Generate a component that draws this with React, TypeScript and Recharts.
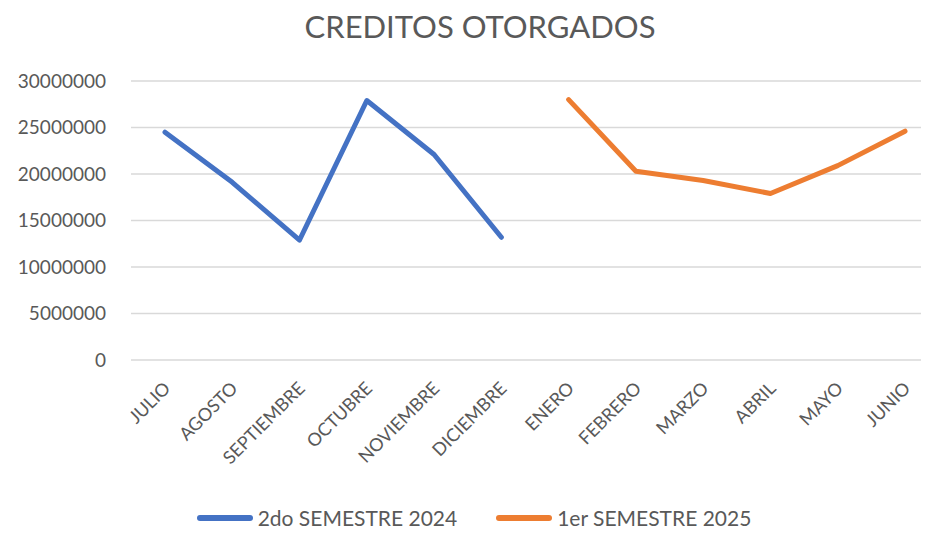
import React from "react";
import { LineChart, Line, XAxis, YAxis, CartesianGrid, Legend } from "recharts";

const months = ["JULIO", "AGOSTO", "SEPTIEMBRE", "OCTUBRE", "NOVIEMBRE", "DICIEMBRE", "ENERO", "FEBRERO", "MARZO", "ABRIL", "MAYO", "JUNIO"];
const semestre2024 = [24500000, 19100000, 12900000, 27900000, 22100000, 13200000, null, null, null, null, null, null];
const semestre2025 = [null, null, null, null, null, null, 28000000, 20300000, 19300000, 17900000, 20900000, 24600000];
const yTicks = [0, 5000000, 10000000, 15000000, 20000000, 25000000, 30000000];
const seriesNames = ["2do SEMESTRE 2024", "1er SEMESTRE 2025"];
const colors = ["#4472C4", "#ED7D31"];
const title = "CREDITOS OTORGADOS";

const data = months.map((m, i) => ({ month: m, s1: semestre2024[i], s2: semestre2025[i] }));

const FONT = "Lato, 'Liberation Sans', sans-serif";
const GRAY = "#595959";

const XTick = (props: any) => {
  const { x, y, payload } = props;
  return (
    <g transform={`translate(${x + 3},${y + 18})`}>
      <text transform="rotate(-45)" textAnchor="end" fill={GRAY} fontSize={18} fontFamily={FONT} dy={5}>
        {payload.value}
      </text>
    </g>
  );
};

const LegendContent = () => (
  <div style={{ display: "flex", justifyContent: "center", alignItems: "center", fontFamily: FONT, fontSize: 21, color: GRAY }}>
    {seriesNames.map((n, i) => (
      <div key={n} style={{ display: "flex", alignItems: "center", marginRight: i === 0 ? 38 : 0 }}>
        <svg width={58} height={10} style={{ marginRight: 4 }}>
          <line x1={4} y1={5} x2={54} y2={5} stroke={colors[i]} strokeWidth={6} strokeLinecap="round" />
        </svg>
        <span>{n}</span>
      </div>
    ))}
  </div>
);

export default function App() {
  return (
    <div style={{ position: "relative", width: 921, height: 527, overflow: "hidden", background: "#fff" }}>
      <div style={{ position: "absolute", top: 0, left: 0, width: 921, boxSizing: "border-box", paddingLeft: 23, textAlign: "center", fontFamily: FONT, fontSize: 31, lineHeight: "36px", color: GRAY, zIndex: 2 }}>
        {title}
      </div>
      <LineChart width={950} height={527} data={data} margin={{ top: 73, right: 19, left: 0, bottom: 0 }}>
        <CartesianGrid vertical={false} stroke="#d9d9d9" strokeWidth={1.5} />
        <XAxis dataKey="month" axisLine={false} tickLine={false} interval={0} height={145} padding={{ left: 34, right: 34 }} tick={<XTick />} />
        <YAxis
          domain={[0, 30000000]}
          ticks={yTicks}
          width={123}
          axisLine={false}
          tickLine={false}
          tickSize={0}
          tickMargin={25}
          tick={{ fill: GRAY, fontSize: 19, fontFamily: FONT }}
        />
        <Legend verticalAlign="bottom" height={30} content={<LegendContent />} />
        <Line type="linear" dataKey="s1" name={seriesNames[0]} stroke={colors[0]} strokeWidth={5} dot={false} strokeLinecap="round" strokeLinejoin="round" isAnimationActive={false} />
        <Line type="linear" dataKey="s2" name={seriesNames[1]} stroke={colors[1]} strokeWidth={5} dot={false} strokeLinecap="round" strokeLinejoin="round" isAnimationActive={false} />
      </LineChart>
    </div>
  );
}
